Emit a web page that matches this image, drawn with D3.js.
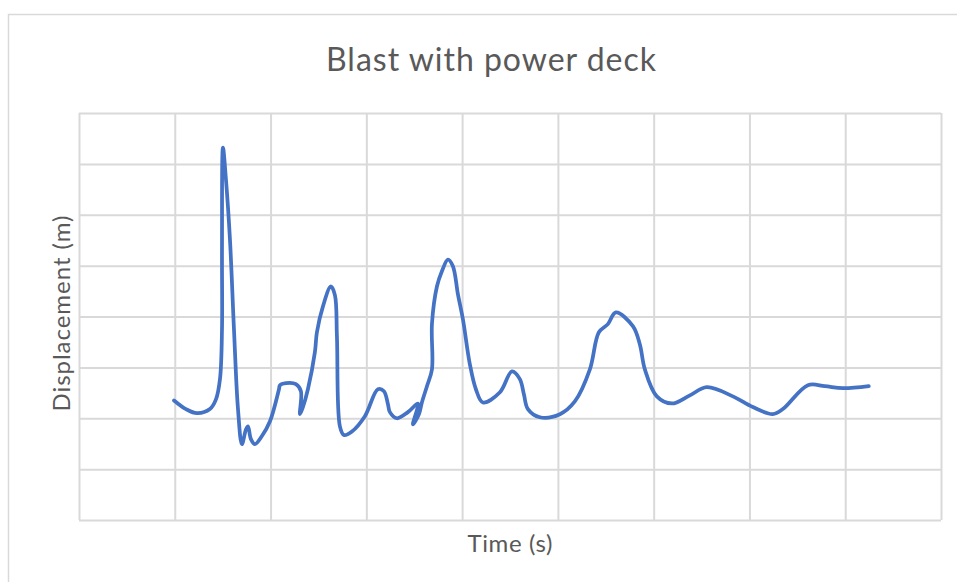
<!DOCTYPE html>
<html>
<head>
<meta charset="utf-8">
<script src="https://cdn.jsdelivr.net/npm/d3@7"></script>
<style>
  body { margin: 0; background: #fff; }
  svg { display: block; }
</style>
</head>
<body>
<div id="chart"></div>
<script>
// values (time in grid units, displacement in m)
const time_s = [
  0.992, 1.117, 1.232, 1.367, 1.43, 1.472, 1.493, 1.493, 1.503, 1.534,
  1.576, 1.618, 1.66, 1.701, 1.743, 1.764, 1.795, 1.837, 1.91, 1.994,
  2.088, 2.098, 2.161, 2.265, 2.317, 2.307, 2.338, 2.39, 2.463, 2.484,
  2.547, 2.63, 2.672, 2.693, 2.724, 2.766, 2.85, 2.985, 3.121, 3.184,
  3.225, 3.246, 3.319, 3.434, 3.539, 3.486, 3.549, 3.58, 3.633, 3.685,
  3.685, 3.737, 3.789, 3.852, 3.904, 3.956, 4.008, 4.081, 4.144, 4.217,
  4.395, 4.52, 4.603, 4.645, 4.687, 4.812, 5.021, 5.177, 5.334, 5.428,
  5.522, 5.605, 5.783, 5.856, 5.908, 6.033, 6.19, 6.378, 6.555, 6.827,
  7.035, 7.244, 7.349, 7.61, 7.787, 7.975, 8.246,
];
const displacement_m = [
  0.035, 0.018, 0.01, 0.018, 0.037, 0.077, 0.175, 0.332, 0.532, 0.47,
  0.352, 0.175, 0.018, -0.051, -0.022, -0.016, -0.041, -0.051, -0.035, -0.006,
  0.057, 0.065, 0.069, 0.067, 0.053, 0.008, 0.022, 0.057, 0.13, 0.169,
  0.22, 0.259, 0.242, 0.161, -0.016, -0.033, -0.026, 0.004, 0.057, 0.053,
  0.028, 0.012, 0.0, 0.012, 0.029, -0.012, 0.008, 0.031, 0.063, 0.096,
  0.185, 0.259, 0.289, 0.312, 0.299, 0.244, 0.195, 0.106, 0.057, 0.031,
  0.051, 0.092, 0.077, 0.047, 0.018, 0.002, 0.008, 0.033, 0.096, 0.169,
  0.185, 0.208, 0.181, 0.145, 0.096, 0.043, 0.029, 0.045, 0.061, 0.043,
  0.022, 0.008, 0.018, 0.065, 0.063, 0.059, 0.063,
];
const x_domain = [0, 9];
const y_domain = [-0.2, 0.6];
const y_ticks = [-0.2, -0.1, 0, 0.1, 0.2, 0.3, 0.4, 0.5, 0.6];
const x_ticks = [0, 1, 2, 3, 4, 5, 6, 7, 8, 9];

const chart_title = "Blast with power deck";
const x_title = "Time (s)";
const y_title = "Displacement (m)";

const width = 957;
const height = 582;
const plot = { left: 79, right: 941, top: 113, bottom: 520 };
const font = "Lato, 'Open Sans', 'Liberation Sans', sans-serif";
const grid_color = "#d9d9d9";
const text_color = "#595959";
const line_color = "#4472c4";

const svg = d3
  .select("#chart")
  .append("svg")
  .attr("width", width)
  .attr("height", height);

// chart area border (runs off the right and bottom edges)
svg
  .append("rect")
  .attr("x", 8.5)
  .attr("y", 14.5)
  .attr("width", width + 20)
  .attr("height", height + 20)
  .attr("fill", "#fff")
  .attr("stroke", grid_color)
  .attr("stroke-width", 1.5);

const X = d3.scaleLinear().domain(x_domain).range([plot.left, plot.right]);
const Y = d3.scaleLinear().domain(y_domain).range([plot.bottom, plot.top]);

const remove_domain = (g) => g.select(".domain").remove();
const style_grid = (g) =>
  g
    .selectAll(".tick line")
    .attr("stroke", grid_color)
    .attr("stroke-width", 2);

svg
  .append("g")
  .attr("transform", `translate(0, ${plot.bottom})`)
  .call(
    d3
      .axisBottom(X)
      .tickValues(x_ticks)
      .tickSize(-(plot.bottom - plot.top))
      .tickFormat("")
  )
  .call(remove_domain)
  .call(style_grid);

svg
  .append("g")
  .attr("transform", `translate(${plot.left}, 0)`)
  .call(
    d3
      .axisLeft(Y)
      .tickValues(y_ticks)
      .tickSize(-(plot.right - plot.left))
      .tickFormat("")
  )
  .call(remove_domain)
  .call(style_grid);

const points = time_s.map((t, i) => [t, displacement_m[i]]);

const line = d3
  .line()
  .curve(d3.curveCatmullRom.alpha(0.5))
  .x((d) => X(d[0]))
  .y((d) => Y(d[1]));

svg
  .append("path")
  .attr("d", line(points))
  .attr("fill", "none")
  .attr("stroke", line_color)
  .attr("stroke-width", 3.75)
  .attr("stroke-linejoin", "round")
  .attr("stroke-linecap", "round");

// titles: Calibri is not installed, so stretch spacing to the original widths
svg
  .append("text")
  .attr("x", 491)
  .attr("y", 71)
  .attr("text-anchor", "middle")
  .attr("font-family", font)
  .attr("font-size", 32)
  .attr("fill", text_color)
  .attr("textLength", 330)
  .attr("lengthAdjust", "spacing")
  .text(chart_title);

svg
  .append("text")
  .attr("x", 510)
  .attr("y", 552)
  .attr("text-anchor", "middle")
  .attr("font-family", font)
  .attr("font-size", 24)
  .attr("fill", text_color)
  .attr("textLength", 85)
  .attr("lengthAdjust", "spacing")
  .text(x_title);

svg
  .append("text")
  .attr("transform", `translate(70, ${(plot.top + plot.bottom) / 2 - 3}) rotate(-90)`)
  .attr("text-anchor", "middle")
  .attr("font-family", font)
  .attr("font-size", 24)
  .attr("fill", text_color)
  .attr("textLength", 196)
  .attr("lengthAdjust", "spacing")
  .text(y_title);
</script>
</body>
</html>
